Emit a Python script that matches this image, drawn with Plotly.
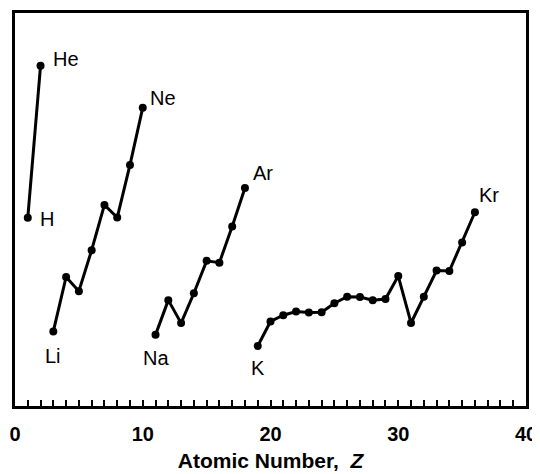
import plotly.graph_objects as go

# First ionization energies (eV) by period
period1_z = [1, 2]
period1_e = [13.60, 24.59]
period2_z = [3, 4, 5, 6, 7, 8, 9, 10]
period2_e = [5.39, 9.32, 8.30, 11.26, 14.53, 13.62, 17.42, 21.56]
period3_z = [11, 12, 13, 14, 15, 16, 17, 18]
period3_e = [5.14, 7.65, 5.99, 8.15, 10.49, 10.36, 12.97, 15.76]
period4_z = list(range(19, 37))
period4_e = [4.34, 6.11, 6.56, 6.83, 6.75, 6.77, 7.43, 7.90, 7.88, 7.64,
             7.73, 9.39, 6.00, 7.90, 9.79, 9.75, 11.81, 14.00]

label_names = ["H", "He", "Li", "Ne", "Na", "Ar", "K", "Kr"]
label_z = [1, 2, 3, 10, 11, 18, 19, 36]
label_e = [13.60, 24.59, 5.39, 21.56, 5.14, 15.76, 4.34, 14.00]
# styling offsets for labels (px)
label_style = {
    "H": dict(xanchor="left", yanchor="middle", xshift=10, yshift=-1),
    "He": dict(xanchor="left", yanchor="middle", xshift=10, yshift=7),
    "Li": dict(xanchor="center", yanchor="middle", xshift=0, yshift=-25),
    "Ne": dict(xanchor="left", yanchor="middle", xshift=5, yshift=10),
    "Na": dict(xanchor="center", yanchor="middle", xshift=0, yshift=-23),
    "Ar": dict(xanchor="left", yanchor="middle", xshift=6, yshift=15),
    "K": dict(xanchor="center", yanchor="middle", xshift=0, yshift=-22),
    "Kr": dict(xanchor="left", yanchor="middle", xshift=2, yshift=17),
}

FONT = "Liberation Sans, Arial, sans-serif"

fig = go.Figure()
for zs, es in [(period1_z, period1_e), (period2_z, period2_e),
               (period3_z, period3_e), (period4_z, period4_e)]:
    fig.add_trace(go.Scatter(
        x=zs, y=es, mode="lines+markers",
        line=dict(color="black", width=3),
        marker=dict(color="black", size=8),
        showlegend=False, hoverinfo="skip", cliponaxis=False))

for name, z, e in zip(label_names, label_z, label_e):
    fig.add_annotation(x=z, y=e, xref="x", yref="y", text=name,
                       showarrow=False,
                       font=dict(family=FONT, size=20, color="black"),
                       **label_style[name])

# page body has an 8px margin; size and margins compensate so the plot
# box sits where the reference has it
fig.update_layout(
    width=532, height=466,
    margin=dict(l=7, r=14, t=5, b=68),
    paper_bgcolor="white", plot_bgcolor="white",
    font=dict(family=FONT, color="black"),
    xaxis=dict(
        range=[0, 40], tickmode="linear", tick0=0, dtick=10,
        ticks="inside", ticklen=6, tickwidth=2, tickcolor="black",
        minor=dict(dtick=1, tick0=0, ticks="inside", ticklen=6, tickwidth=2,
                   tickcolor="black", showgrid=False),
        showline=True, linecolor="black", linewidth=3, mirror=True,
        showgrid=False, zeroline=False, automargin=False,
        ticklabelstandoff=8, ticklabeloverflow="allow",
        tickfont=dict(family=FONT, size=20, color="black", weight="bold"),
        title=dict(text="<b>Atomic Number,  <i>Z</i></b>",
                   font=dict(family=FONT, size=21, color="black"),
                   standoff=10),
    ),
    yaxis=dict(
        range=[0, 28.4], showticklabels=False, ticks="",
        showline=True, linecolor="black", linewidth=3, mirror=True,
        showgrid=False, zeroline=False, automargin=False,
    ),
)

fig.write_html("out.html")
